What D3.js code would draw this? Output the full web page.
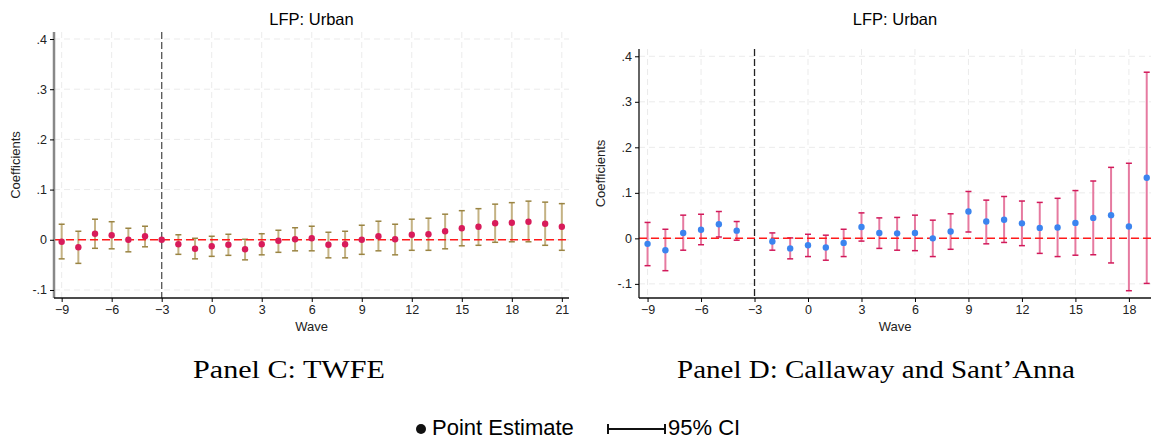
<!DOCTYPE html>
<html>
<head>
<meta charset="utf-8">
<script src="https://cdn.jsdelivr.net/npm/d3@7"></script>
<style>
  body { margin: 0; background: #fff; }
  svg { display: block; }
  .tick text { font-family: "Liberation Sans", Arial, sans-serif; font-size: 12.5px; fill: #222; }
</style>
</head>
<body>
<svg width="1151" height="439"></svg>
<script>

// Panel C: TWFE
var twfeWaves = [-9,-8,-7,-6,-5,-4,-3,-2,-1,0,1,2,3,4,5,6,7,8,9,10,11,12,13,14,15,16,17,18,19,20,21];
var twfeCoef  = [-0.004,-0.015,0.012,0.009,0.000,0.007,0.000,-0.009,-0.018,-0.013,-0.010,-0.019,-0.009,-0.002,0.001,
                 0.003,-0.010,-0.009,0.000,0.007,0.001,0.010,0.011,0.017,0.023,0.026,0.033,0.034,0.036,0.032,0.026];
var twfeHi    = [0.031,0.017,0.041,0.036,0.023,0.027,null,0.010,0.003,0.007,0.011,0.001,0.012,0.019,0.024,
                 0.027,0.015,0.017,0.029,0.037,0.031,0.041,0.043,0.051,0.058,0.062,0.071,0.074,0.077,0.075,0.072];
var twfeLo    = [-0.038,-0.047,-0.017,-0.018,-0.024,-0.014,null,-0.029,-0.038,-0.033,-0.031,-0.040,-0.030,-0.025,-0.022,
                 -0.022,-0.036,-0.036,-0.029,-0.022,-0.030,-0.021,-0.021,-0.018,-0.012,-0.011,-0.005,-0.004,-0.004,-0.011,-0.021];

// Panel D: Callaway and Sant'Anna
var csWaves = [-9,-8,-7,-6,-5,-4,-2,-1,0,1,2,3,4,5,6,7,8,9,10,11,12,13,14,15,16,17,18,19];
var csCoef  = [-0.012,-0.026,0.012,0.019,0.031,0.017,-0.007,-0.022,-0.015,-0.020,-0.010,0.025,0.012,0.011,0.012,
               0.000,0.015,0.059,0.037,0.041,0.033,0.023,0.024,0.034,0.045,0.051,0.026,0.133];
var csHi    = [0.035,0.020,0.051,0.053,0.059,0.037,0.012,0.001,0.009,0.007,0.020,0.056,0.045,0.046,0.051,
               0.040,0.054,0.103,0.084,0.092,0.082,0.079,0.088,0.105,0.126,0.156,0.165,0.365];
var csLo    = [-0.060,-0.071,-0.026,-0.014,0.003,-0.004,-0.026,-0.045,-0.040,-0.048,-0.040,-0.006,-0.022,-0.026,-0.027,
               -0.040,-0.024,0.014,-0.012,-0.009,-0.016,-0.033,-0.040,-0.037,-0.036,-0.054,-0.115,-0.099];

var yTicks = [-0.1, 0, 0.1, 0.2, 0.3, 0.4];
var twfeXTicks = [-9,-6,-3,0,3,6,9,12,15,18,21];
var csXTicks = [-9,-6,-3,0,3,6,9,12,15,18];

var svg = d3.select("svg");

function fmtY(v) {
  if (Math.abs(v) < 1e-9) return "0";
  return (v < 0 ? "-" : "") + "." + Math.round(Math.abs(v) * 10);
}

function drawPanel(p) {
  var x = d3.scaleLinear().domain(p.xDomain).range([p.left, p.right]);
  var y = d3.scaleLinear().domain(p.yDomain).range([p.bottom, p.top]);
  var g = svg.append("g");

  // grid
  g.selectAll(".hgrid").data(yTicks).join("line")
    .attr("x1", p.left).attr("x2", p.right)
    .attr("y1", function(d){ return y(d); }).attr("y2", function(d){ return y(d); })
    .attr("stroke", "#ebebeb").attr("stroke-dasharray", "6,4");
  g.selectAll(".vgrid").data(p.xTicks).join("line")
    .attr("x1", function(d){ return x(d); }).attr("x2", function(d){ return x(d); })
    .attr("y1", p.top).attr("y2", p.bottom)
    .attr("stroke", "#ebebeb").attr("stroke-dasharray", "6,4");

  // event line at -3
  g.append("line")
    .attr("x1", x(-3)).attr("x2", x(-3))
    .attr("y1", p.top).attr("y2", p.bottom)
    .attr("stroke", p.vColor).attr("stroke-width", 1.3).attr("stroke-dasharray", "7,3");

  // confidence intervals
  var ci = p.waves.map(function(w, i){ return {w: w, b: p.coef[i], lo: p.lo[i], hi: p.hi[i]}; })
    .filter(function(d){ return d.lo !== null; });
  g.selectAll(".ci").data(ci).join("line")
    .attr("x1", function(d){ return x(d.w); }).attr("x2", function(d){ return x(d.w); })
    .attr("y1", function(d){ return y(d.lo); }).attr("y2", function(d){ return y(d.hi); })
    .attr("stroke", p.ciColor).attr("stroke-width", 2);
  ["lo", "hi"].forEach(function(k){
    g.selectAll(".cap" + k).data(ci).join("line")
      .attr("x1", function(d){ return x(d.w) - 3; }).attr("x2", function(d){ return x(d.w) + 3; })
      .attr("y1", function(d){ return y(d[k]); }).attr("y2", function(d){ return y(d[k]); })
      .attr("stroke", p.capColor).attr("stroke-width", 1.5);
  });

  // zero line
  g.append("line")
    .attr("x1", p.left).attr("x2", p.right)
    .attr("y1", y(0)).attr("y2", y(0))
    .attr("stroke", "#ff1a1a").attr("stroke-width", 1.5).attr("stroke-dasharray", "8,4");

  // points
  g.selectAll(".pt").data(p.waves.map(function(w, i){ return {w: w, b: p.coef[i]}; })).join("circle")
    .attr("cx", function(d){ return x(d.w); }).attr("cy", function(d){ return y(d.b); })
    .attr("r", 3.2).attr("fill", p.ptColor);

  // axes
  var ya = g.append("g").attr("transform", "translate(" + p.left + ",0)")
    .call(d3.axisLeft(y).tickValues(yTicks).tickFormat(fmtY).tickSize(4).tickPadding(3));
  ya.select(".domain").attr("stroke", p.yAxisColor).attr("stroke-width", p.yAxisWidth)
    .attr("d", "M0," + p.top + "V" + p.bottom);
  var xa = g.append("g").attr("transform", "translate(0," + p.bottom + ")")
    .call(d3.axisBottom(x).tickValues(p.xTicks).tickFormat(d3.format("d")).tickSize(4).tickPadding(3));
  xa.select(".domain").attr("stroke", "#111").attr("stroke-width", 1.3)
    .attr("d", "M" + p.left + ",0H" + p.right);

  var cx = (p.left + p.right) / 2;
  g.append("text").attr("x", cx).attr("y", 25).attr("text-anchor", "middle")
    .style("font-family", "Liberation Sans, Arial, sans-serif").style("font-size", "16.5px")
    .text("LFP: Urban");
  g.append("text").attr("x", cx).attr("y", 331).attr("text-anchor", "middle")
    .style("font-family", "Liberation Sans, Arial, sans-serif").style("font-size", "13px").attr("fill", "#222")
    .text("Wave");
  g.append("text")
    .attr("transform", "translate(" + p.yLabelX + "," + ((p.top + p.bottom) / 2) + ") rotate(-90)")
    .attr("text-anchor", "middle")
    .style("font-family", "Liberation Sans, Arial, sans-serif").style("font-size", "13px").attr("fill", "#222")
    .text("Coefficients");
  g.append("text").attr("x", p.captionX).attr("y", 378).attr("text-anchor", "middle")
    .attr("textLength", p.captionW).attr("lengthAdjust", "spacingAndGlyphs")
    .style("font-family", "Liberation Serif, Times New Roman, serif").style("font-size", "25px")
    .text(p.caption);
}

drawPanel({
  waves: twfeWaves, coef: twfeCoef, lo: twfeLo, hi: twfeHi, xTicks: twfeXTicks,
  xDomain: [-9.46, 21.43], yDomain: [-0.116, 0.414],
  left: 54, right: 569, top: 32, bottom: 298,
  ciColor: "#c4b283", capColor: "#9a8442", ptColor: "#d81b5a",
  vColor: "#555", yAxisColor: "#888", yAxisWidth: 2.5, yLabelX: 20,
  caption: "Panel C: TWFE", captionX: 289, captionW: 192
});

drawPanel({
  waves: csWaves, coef: csCoef, lo: csLo, hi: csHi, xTicks: csXTicks,
  xDomain: [-9.48, 19.24], yDomain: [-0.131, 0.416],
  left: 639, right: 1151, top: 49, bottom: 298,
  ciColor: "#e67aa0", capColor: "#d2195a", ptColor: "#3b84ef",
  vColor: "#222", yAxisColor: "#111", yAxisWidth: 1.3, yLabelX: 605,
  caption: "Panel D: Callaway and Sant\u2019Anna", captionX: 876, captionW: 398
});

// legend
var leg = svg.append("g");
leg.append("circle").attr("cx", 421).attr("cy", 429).attr("r", 5).attr("fill", "#111");
leg.append("text").attr("x", 432).attr("y", 435)
  .style("font-family", "Liberation Sans, Arial, sans-serif").style("font-size", "22px")
  .text("Point Estimate");
leg.append("line").attr("x1", 608).attr("x2", 665).attr("y1", 429).attr("y2", 429)
  .attr("stroke", "#111").attr("stroke-width", 2);
[608, 665].forEach(function(cx){
  leg.append("line").attr("x1", cx).attr("x2", cx).attr("y1", 424).attr("y2", 434)
    .attr("stroke", "#111").attr("stroke-width", 2);
});
leg.append("text").attr("x", 668).attr("y", 435)
  .style("font-family", "Liberation Sans, Arial, sans-serif").style("font-size", "22px")
  .text("95% CI");

</script>
</body>
</html>
